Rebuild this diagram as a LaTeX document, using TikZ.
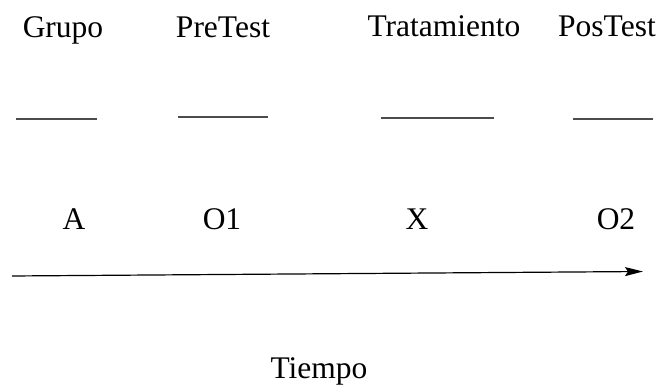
\documentclass[tikz,border=0pt]{standalone}
\usepackage{fontspec}
\setmainfont{Liberation Serif}
\usetikzlibrary{arrows.meta}
\begin{document}
\begin{tikzpicture}[x=1pt,y=1pt,
  lbl/.style={anchor=base,inner sep=0pt,font=\fontsize{31.5}{38}\selectfont},
  blank/.style={draw=black!70,line width=1.4pt},
  timeline/.style={draw=black,line width=1.2pt,-{Stealth[length=18pt,width=9pt,inset=3pt]}}]
\useasboundingbox (0,0) rectangle (662,390);
% header row
\node[lbl] (grupo) at (63,352) {Grupo};
\node[lbl] (pre) at (223,352) {PreTest};
\node[lbl] (trat) at (444,353) {Tratamiento};
\node[lbl] (pos) at (607,353) {PosTest};
% blanks
\coordinate (b1a) at (16,271); \coordinate (b1b) at (97,271);
\coordinate (b2a) at (178,273); \coordinate (b2b) at (268,273);
\coordinate (b3a) at (381,272); \coordinate (b3b) at (494,272);
\coordinate (b4a) at (573,271); \coordinate (b4b) at (653,271);
\draw[blank] (b1a) -- (b1b);
\draw[blank] (b2a) -- (b2b);
\draw[blank] (b3a) -- (b3b);
\draw[blank] (b4a) -- (b4b);
% symbols row
\node[lbl] (a) at (74,160) {A};
\node[lbl] (o1) at (222,160) {O1};
\node[lbl] (x) at (417,160) {X};
\node[lbl] (o2) at (616,160) {O2};
% time arrow
\coordinate (t0) at (12,114);
\coordinate (t1) at (643,118.5);
\draw[timeline] (t0) -- (t1);
\node[lbl] (tiempo) at (319,11) {Tiempo};
\end{tikzpicture}
\end{document}
